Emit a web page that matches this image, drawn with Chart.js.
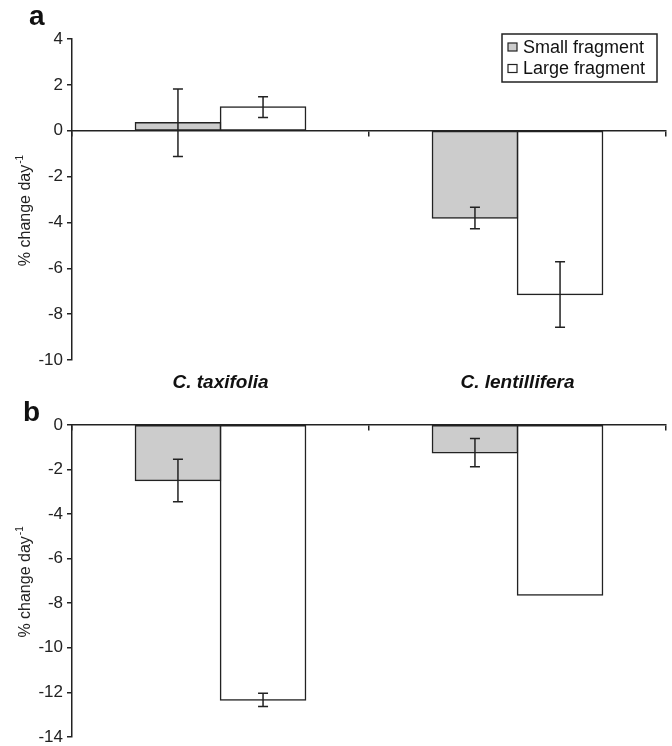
<!DOCTYPE html>
<html>
<head>
<meta charset="utf-8">
<script src="https://cdn.jsdelivr.net/npm/chart.js@4.4.0/dist/chart.umd.min.js"></script>
<style>
  html, body { margin: 0; padding: 0; background: #fff; }
  body { width: 672px; height: 746px; position: relative; overflow: hidden; font-family: "Liberation Sans", Arial, sans-serif; }
  .wrap { position: absolute; left: 0; }
  .plabel { position: absolute; font-weight: bold; font-size: 28px; color: #111; line-height: 1; }
</style>
</head>
<body>
<div class="wrap" style="top:0px"><canvas id="ca" width="672" height="395"></canvas></div>
<div class="wrap" style="top:395px"><canvas id="cb" width="672" height="351"></canvas></div>
<div class="plabel" style="left:29px; top:2px;">a</div>
<div class="plabel" style="left:23px; top:398px;">b</div>
<script>
const categories = ['C. taxifolia', 'C. lentillifera'];
const seriesNames = ['Small fragment', 'Large fragment'];
const yTitleMain = '% change day';
const yTitleSup = '-1';
// Panel a
const aSmall = [0.35, -3.81];
const aSmallErr = [1.47, 0.47];
const aLarge = [1.03, -7.14];
const aLargeErr = [0.45, 1.43];
// Panel b
const bSmall = [-2.49, -1.24];
const bSmallErr = [0.95, 0.63];
const bLarge = [-12.34, -7.63];
const bLargeErr = [0.30, null];
const aTicks = [-10, -8, -6, -4, -2, 0, 2, 4];
const bTicks = [-14, -12, -10, -8, -6, -4, -2, 0];

const INK = '#222';
const FONT = '"Liberation Sans", Arial, sans-serif';

const errorBars = {
  id: 'errorBars',
  afterDatasetsDraw(chart) {
    const ctx = chart.ctx;
    const ys = chart.scales.y;
    ctx.save();
    ctx.strokeStyle = INK;
    ctx.lineWidth = 1.5;
    chart.data.datasets.forEach((ds, i) => {
      const meta = chart.getDatasetMeta(i);
      meta.data.forEach((el, j) => {
        const e = ds.err[j];
        if (e == null) return;
        const v = ds.data[j];
        const y1 = ys.getPixelForValue(v + e);
        const y2 = ys.getPixelForValue(v - e);
        const x = el.x;
        ctx.beginPath();
        ctx.moveTo(x, y1); ctx.lineTo(x, y2);
        ctx.moveTo(x - 5, y1); ctx.lineTo(x + 5, y1);
        ctx.moveTo(x - 5, y2); ctx.lineTo(x + 5, y2);
        ctx.stroke();
      });
    });
    ctx.restore();
  }
};

const boxLegend = {
  id: 'boxLegend',
  afterDraw(chart, args, opts) {
    if (!opts.show) return;
    const ctx = chart.ctx;
    const x0 = 502, y0 = 34, w = 155, h = 48;
    ctx.save();
    ctx.fillStyle = '#fff';
    ctx.fillRect(x0, y0, w, h);
    ctx.strokeStyle = INK;
    ctx.lineWidth = 1.5;
    ctx.strokeRect(x0, y0, w, h);
    ctx.font = '18px ' + FONT;
    ctx.textBaseline = 'middle';
    chart.data.datasets.forEach((ds, i) => {
      const cy = y0 + 13 + i * 21.5;
      ctx.fillStyle = ds.backgroundColor;
      ctx.fillRect(x0 + 6, cy - 4, 9, 8);
      ctx.lineWidth = 1.2;
      ctx.strokeStyle = INK;
      ctx.strokeRect(x0 + 6, cy - 4, 9, 8);
      ctx.fillStyle = '#111';
      ctx.fillText(ds.label, x0 + 21, cy + 1);
    });
    ctx.restore();
  }
};

const yTitle = {
  id: 'yTitle',
  afterDraw(chart, args, opts) {
    const ctx = chart.ctx;
    const ca = chart.chartArea;
    const cy = (ca.top + ca.bottom) / 2 + opts.shift;
    ctx.save();
    ctx.translate(25, cy);
    ctx.rotate(-Math.PI / 2);
    ctx.fillStyle = INK;
    ctx.textBaseline = 'middle';
    ctx.font = '16px ' + FONT;
    const wMain = ctx.measureText(yTitleMain).width;
    ctx.font = '10px ' + FONT;
    const wSup = ctx.measureText(yTitleSup).width;
    const total = wMain + wSup + 1;
    ctx.font = '16px ' + FONT;
    ctx.textAlign = 'left';
    ctx.fillText(yTitleMain, -total / 2, 1);
    ctx.font = '10px ' + FONT;
    ctx.fillText(yTitleSup, -total / 2 + wMain + 1, -5);
    ctx.restore();
  }
};

function makeChart(id, small, smallErr, large, largeErr, ticks, padTop, padBottom, showCats, showLegend, titleShift) {
  const scales = {
    x: {
      type: 'category',
      position: { y: 0 },
      offset: true,
      grid: { display: true, drawOnChartArea: false, offset: true, tickLength: 5, color: INK, lineWidth: 1.5 },
      border: { display: true, color: INK, width: 1.5 },
      ticks: { display: false }
    },
    y: {
      min: ticks[0], max: ticks[ticks.length - 1],
      afterFit(s) { s.width = 72; },
      afterBuildTicks(s) { s.ticks = ticks.map(v => ({ value: v })); },
      grid: { display: true, drawOnChartArea: false, tickLength: 5, color: INK, lineWidth: 1.5 },
      border: { display: true, color: INK, width: 1.5 },
      ticks: { color: INK, font: { family: FONT, size: 17, lineHeight: 0.6 }, padding: 4 },
      title: { display: false }
    }
  };
  if (showCats) {
    scales.x2 = {
      type: 'category',
      position: 'bottom',
      offset: true,
      labels: categories,
      afterFit(s) { s.height = 35; },
      grid: { display: false, drawTicks: false },
      border: { display: false },
      ticks: { color: '#111', font: { family: FONT, size: 19, weight: 'bold', style: 'italic' }, padding: 11 }
    };
  }
  const barOpts = { borderColor: INK, borderWidth: 1.5, borderSkipped: false, inflateAmount: 0.75, categoryPercentage: 0.573, barPercentage: 1.0 };
  return new Chart(document.getElementById(id), {
    type: 'bar',
    data: {
      labels: categories,
      datasets: [
        Object.assign({ label: seriesNames[0], data: small, err: smallErr, backgroundColor: '#cccccc' }, barOpts),
        Object.assign({ label: seriesNames[1], data: large, err: largeErr, backgroundColor: '#ffffff' }, barOpts)
      ]
    },
    options: {
      responsive: false,
      animation: false,
      layout: { padding: { left: 0, right: 6, top: padTop, bottom: padBottom } },
      plugins: { legend: { display: false }, tooltip: { enabled: false }, boxLegend: { show: showLegend }, yTitle: { shift: titleShift } },
      scales
    },
    plugins: [errorBars, boxLegend, yTitle]
  });
}

makeChart('ca', aSmall, aSmallErr, aLarge, aLargeErr, aTicks, 39, 0, true, true, 11);
makeChart('cb', bSmall, bSmallErr, bLarge, bLargeErr, bTicks, 30, 0, false, false, 1);
</script>
</body>
</html>
